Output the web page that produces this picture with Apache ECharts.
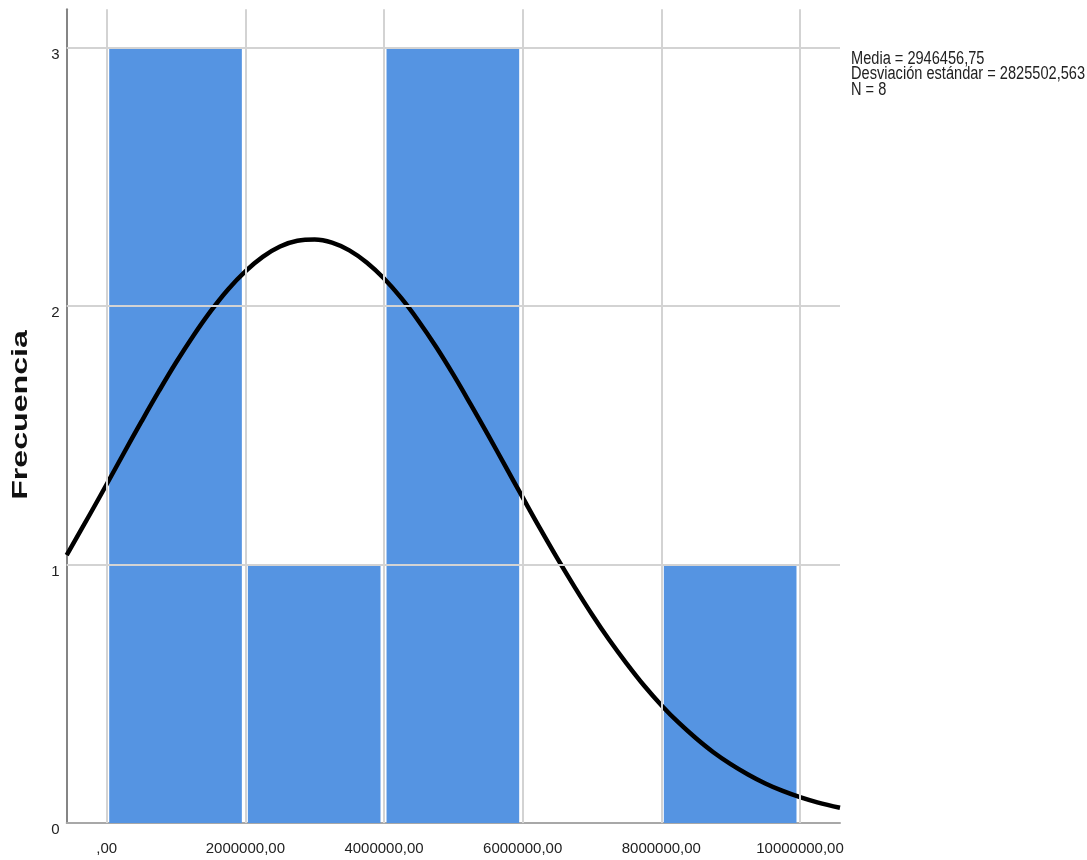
<!DOCTYPE html>
<html>
<head>
<meta charset="utf-8">
<script src="https://cdn.jsdelivr.net/npm/echarts@6/dist/echarts.min.js"></script>
<style>
html,body{margin:0;padding:0;background:#fff;}
#chart{width:1087px;height:860px;}
</style>
</head>
<body>
<div id="chart"></div>
<script>
// ---- data ----
const binEdges = [0, 2000000, 4000000, 6000000, 8000000, 10000000];
const frequencies = [3, 1, 3, 0, 1];

// normal curve
const curveX = [-577000, -250000, 0, 250000, 500000, 750000, 1000000, 1250000, 1500000, 1750000, 2000000, 2250000, 2500000, 2750000, 3000000, 3250000, 3500000, 3750000, 4000000, 4250000, 4500000, 4750000, 5000000, 5250000, 5500000, 5750000, 6000000, 6250000, 6500000, 6750000, 7000000, 7250000, 7500000, 7750000, 8000000, 8250000, 8500000, 8750000, 9000000, 9250000, 9500000, 9750000, 10000000, 10250000, 10577000];
const curveY = [1.037, 1.191, 1.311, 1.433, 1.553, 1.670, 1.782, 1.886, 1.981, 2.065, 2.135, 2.191, 2.231, 2.253, 2.258, 2.246, 2.216, 2.169, 2.107, 2.031, 1.942, 1.843, 1.735, 1.620, 1.502, 1.381, 1.260, 1.140, 1.024, 0.913, 0.807, 0.708, 0.617, 0.532, 0.456, 0.388, 0.328, 0.274, 0.228, 0.188, 0.153, 0.124, 0.100, 0.080, 0.059];

const xTickValues = [0, 2000000, 4000000, 6000000, 8000000, 10000000];
const xTickLabels = [',00', '2000000,00', '4000000,00', '6000000,00', '8000000,00', '10000000,00'];
const yTickValues = [0, 1, 2, 3];
const yTickLabels = ['0', '1', '2', '3'];

const yAxisTitle = 'Frecuencia';
const statsLines = ['Media = 2946456,75', 'Desviación estándar = 2825502,563', 'N = 8'];

// ---- build ----
const barData = frequencies.map((f, i) => [binEdges[i], binEdges[i + 1], f]).filter(d => d[2] > 0);
const curveData = curveX.map((x, i) => [x, curveY[i]]);

const sans = "'Liberation Sans', Arial, sans-serif";

const chart = echarts.init(document.getElementById('chart'), null, {renderer: 'canvas'});
chart.setOption({
  animation: false,
  backgroundColor: '#ffffff',
  grid: {left: 66.7, right: 247, top: 9.3, bottom: 37, containLabel: false},
  xAxis: {
    type: 'value',
    min: -577000,
    max: 10577000,
    axisLine: {show: true, onZero: false, lineStyle: {color: '#a8a8a8', width: 2}},
    axisTick: {show: false},
    splitLine: {show: false},
    axisLabel: {
      customValues: xTickValues,
      formatter: v => { const i = xTickValues.indexOf(v); return i >= 0 ? xTickLabels[i] : ''; },
      fontFamily: sans, fontSize: 15, color: '#222', margin: 18
    }
  },
  yAxis: {
    type: 'value',
    min: 0,
    max: 3.149,
    axisLine: {show: true, onZero: false, lineStyle: {color: '#858585', width: 2}},
    axisTick: {show: false},
    splitLine: {show: false},
    axisLabel: {
      customValues: yTickValues,
      formatter: v => { const i = yTickValues.indexOf(v); return i >= 0 ? yTickLabels[i] : ''; },
      fontFamily: sans, fontSize: 15, color: '#222', margin: 7,
      verticalAlign: 'top', lineHeight: 14
    }
  },
  series: [
    {
      name: 'grid',
      type: 'line',
      data: [],
      z: 1,
      silent: true,
      markLine: {
        silent: true,
        symbol: ['none', 'none'],
        label: {show: false},
        lineStyle: {color: '#d3d3d3', width: 2, type: 'solid'},
        data: xTickValues.map(v => ({xAxis: v})).concat(yTickValues.filter(v => v > 0).map(v => ({yAxis: v})))
      }
    },
    {
      name: 'bars',
      type: 'custom',
      z: 2,
      silent: true,
      data: barData,
      encode: {x: [0, 1], y: 2},
      renderItem: function (params, api) {
        const p0 = api.coord([api.value(0), 0]);
        const p1 = api.coord([api.value(1), api.value(2)]);
        const x0 = p0[0] + 2.5, x1 = p1[0] - 3.5;
        return {
          type: 'rect',
          shape: {x: x0, y: p1[1], width: x1 - x0, height: p0[1] - p1[1]},
          style: {fill: '#5594e2'}
        };
      }
    },
    {
      name: 'curve',
      type: 'line',
      z: 3,
      silent: true,
      data: curveData,
      smooth: 0.4,
      showSymbol: false,
      symbol: 'none',
      lineStyle: {color: '#000', width: 4.5, cap: 'butt', join: 'round'}
    }
  ],
  graphic: [
    {
      type: 'text',
      x: 20.7, y: 415,
      rotation: Math.PI / 2,
      scaleX: 1.46,
      style: {
        text: yAxisTitle,
        font: "bold 22px 'Liberation Sans', Arial, sans-serif",
        fill: '#111',
        align: 'center',
        verticalAlign: 'middle'
      }
    },
    {
      type: 'text',
      x: 851, y: 51,
      scaleY: 1.22,
      style: {
        text: statsLines.join('\n'),
        font: "14.6px " + sans,
        lineHeight: 12.8,
        fill: '#222',
        align: 'left',
        verticalAlign: 'top'
      }
    }
  ]
});
</script>
</body>
</html>
